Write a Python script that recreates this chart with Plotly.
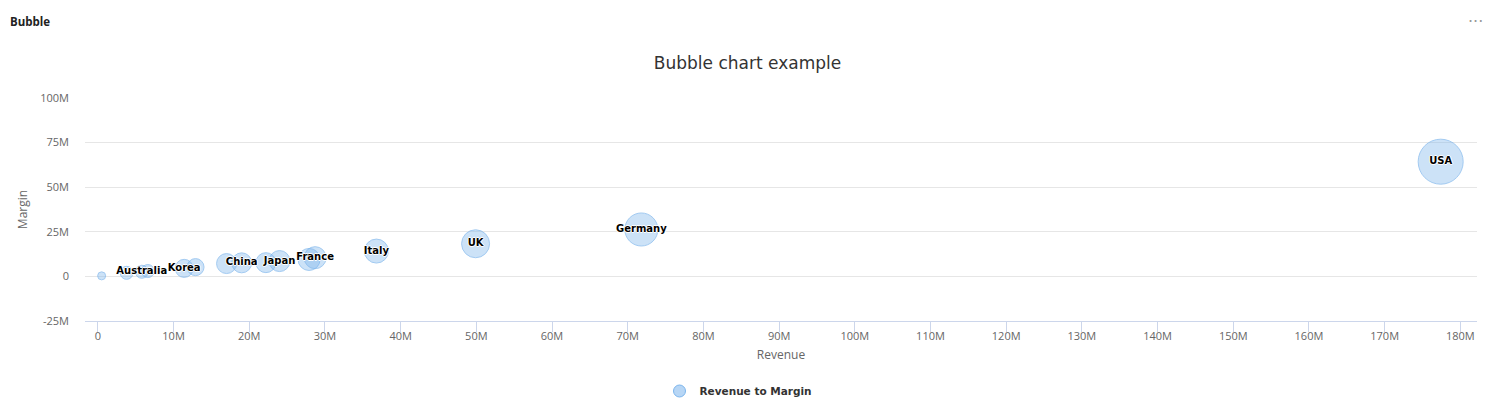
import math
import plotly.graph_objects as go

# ---- data ----
revenue_m = [0.5, 3.8, 5.8, 6.6, 11.4, 12.9, 17.0, 19.0, 22.2, 24.0, 27.9, 28.7, 36.8, 49.9, 71.8, 177.4]
margin_m = [0.3, 2.0, 2.6, 3.0, 4.5, 5.2, 7.2, 7.6, 7.7, 8.6, 9.5, 10.5, 14.2, 18.3, 26.3, 64.3]
bubble_value = [10, 63, 63, 63, 142, 124, 179, 179, 179, 200, 222, 222, 268, 373, 528, 1000]
point_labels = ["", "", "Australia", "", "Korea", "", "", "China", "", "Japan", "", "France",
                "Italy", "UK", "Germany", "USA"]

x_tick_vals_m = [0, 10, 20, 30, 40, 50, 60, 70, 80, 90, 100, 110, 120, 130, 140, 150, 160, 170, 180]
x_tick_text = ["0", "10M", "20M", "30M", "40M", "50M", "60M", "70M", "80M", "90M", "100M", "110M",
               "120M", "130M", "140M", "150M", "160M", "170M", "180M"]
y_tick_vals_m = [-25, 0, 25, 50, 75, 100]
y_tick_text = ["-25M", "0", "25M", "50M", "75M", "100M"]

series_name = "Revenue to Margin"
chart_title = "Bubble chart example"
widget_title = "Bubble"

# ---- bubble sizing (area based, like the original charting library) ----
MIN_D, MAX_D = 8.0, 45.0
zmin, zmax = min(bubble_value), max(bubble_value)
diam = [math.sqrt(MIN_D ** 2 + (z - zmin) / (zmax - zmin) * (MAX_D ** 2 - MIN_D ** 2)) for z in bubble_value]

M = 1e6
xs = [v * M for v in revenue_m]
ys = [v * M for v in margin_m]

BLUE = "rgb(124,181,236)"
FILL = "rgba(124,181,236,0.55)"
TICK_FONT = dict(family="Open Sans", size=11, color="#666666")

W, H = 1495, 412
L, R, T, B = 85, 18, 98, 91
PW, PH = W - L - R, H - T - B

fig = go.Figure()
fig.add_trace(go.Scatter(
    x=xs, y=ys, mode="markers+text", text=point_labels, textposition="middle center",
    textfont=dict(family="DejaVu Sans", size=10, color="#000000", weight="bold",
                  shadow="1px 0 0 #fff, -1px 0 0 #fff, 0 1px 0 #fff, 0 -1px 0 #fff"),
    marker=dict(size=diam, sizemode="diameter", color=FILL, line=dict(color=BLUE, width=1)),
    name=series_name, showlegend=False, hoverinfo="x+y+text",
))
# legend entry
fig.add_trace(go.Scatter(
    x=[None], y=[None], mode="markers", name=series_name,
    marker=dict(size=12, color=FILL, line=dict(color=BLUE, width=1)),
    showlegend=True,
))

fig.update_layout(
    width=W, height=H,
    margin=dict(l=L, r=R, t=T, b=B, pad=0),
    paper_bgcolor="white", plot_bgcolor="white",
    title=dict(text=chart_title, x=0.5, xref="container", xanchor="center",
               y=1 - 63 / H, yref="container", yanchor="middle",
               font=dict(family="DejaVu Sans", size=17, color="#333333")),
    showlegend=True,
    legend=dict(orientation="h", xref="container", yref="container", x=0.5 - 9 / W, xanchor="center",
                y=1 - 391 / H, yanchor="middle", itemwidth=30,
                font=dict(family="DejaVu Sans", size=10.5, color="#333333", weight="bold")),
    xaxis=dict(
        range=[-1.7 * M, 182.2 * M], tickvals=[v * M for v in x_tick_vals_m], ticktext=x_tick_text,
        showgrid=False, zeroline=False, showline=True, linecolor="#ccd6eb", linewidth=1,
        ticks="outside", ticklen=10, tickcolor="#ccd6eb", tickfont=TICK_FONT, ticklabelstandoff=-5,
        title=dict(text="Revenue", font=dict(family="Open Sans", size=12, color="#666666"), standoff=8),
    ),
    yaxis=dict(
        range=[-25 * M, 100 * M], tickvals=[v * M for v in y_tick_vals_m], ticktext=y_tick_text,
        showgrid=True, gridcolor="#e6e6e6", gridwidth=1, zeroline=False, showline=False,
        ticks="", tickfont=TICK_FONT, ticklabelstandoff=15,
        title=dict(text="Margin", font=dict(family="Open Sans", size=12, color="#666666"), standoff=10),
    ),
    annotations=[
        dict(text=widget_title, xref="paper", yref="paper", x=(8 - L) / PW, y=1 + (T - 21) / PH,
             xanchor="left", yanchor="middle", showarrow=False,
             font=dict(family="Open Sans", size=11.5, color="#222222", weight="bold")),
        dict(text="···", xref="paper", yref="paper", x=(1475 - L) / PW, y=1 + (T - 22) / PH,
             xanchor="center", yanchor="middle", showarrow=False,
             font=dict(family="DejaVu Sans", size=16, color="#999999")),
    ],
)

fig.write_html("out.html", config={"displayModeBar": False},
               post_script="document.body.style.margin='0';")
